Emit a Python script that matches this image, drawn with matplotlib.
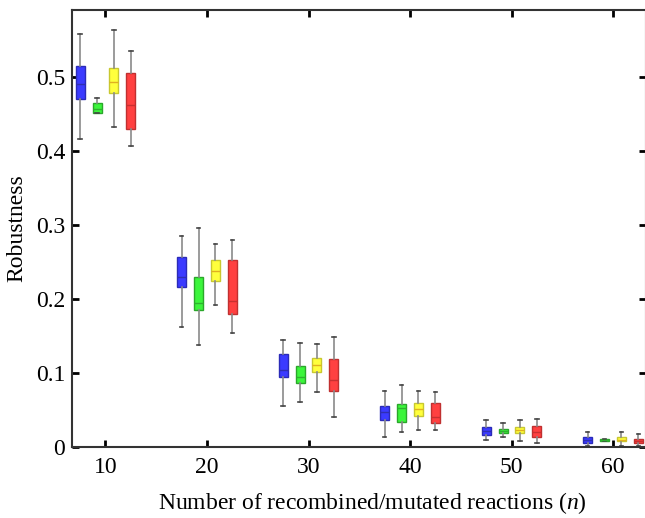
import numpy as np
import matplotlib.pyplot as plt

# Number of recombined/mutated reactions
n_vals = [10, 20, 30, 40, 50, 60]

# Box statistics for each of the four series (low whisker, q1, median, q3, high whisker)
blue_lo  = [0.416, 0.162, 0.055, 0.014, 0.009, 0.002]
blue_q1  = [0.470, 0.216, 0.094, 0.037, 0.016, 0.005]
blue_med = [0.490, 0.229, 0.104, 0.047, 0.022, 0.009]
blue_q3  = [0.514, 0.256, 0.125, 0.056, 0.027, 0.013]
blue_hi  = [0.558, 0.285, 0.145, 0.076, 0.037, 0.020]

green_lo  = [0.451, 0.138, 0.061, 0.020, 0.013, 0.0078]
green_q1  = [0.451, 0.185, 0.087, 0.034, 0.019, 0.0080]
green_med = [0.457, 0.195, 0.095, 0.052, 0.022, 0.0092]
green_q3  = [0.464, 0.230, 0.110, 0.058, 0.024, 0.0102]
green_hi  = [0.471, 0.295, 0.141, 0.084, 0.033, 0.0105]

yellow_lo  = [0.432, 0.192, 0.074, 0.023, 0.008, 0.002]
yellow_q1  = [0.478, 0.224, 0.101, 0.042, 0.019, 0.008]
yellow_med = [0.493, 0.237, 0.111, 0.051, 0.023, 0.0095]
yellow_q3  = [0.512, 0.252, 0.120, 0.059, 0.027, 0.013]
yellow_hi  = [0.563, 0.274, 0.139, 0.075, 0.036, 0.020]

red_lo  = [0.407, 0.154, 0.041, 0.023, 0.005, 0.002]
red_q1  = [0.429, 0.179, 0.076, 0.032, 0.013, 0.005]
red_med = [0.462, 0.197, 0.091, 0.041, 0.020, 0.0085]
red_q3  = [0.505, 0.253, 0.119, 0.059, 0.028, 0.011]
red_hi  = [0.535, 0.280, 0.148, 0.074, 0.038, 0.017]

series = [
    (blue_lo, blue_q1, blue_med, blue_q3, blue_hi, '#3b3bff', '#2b2bb8', '#2f2fb0'),
    (green_lo, green_q1, green_med, green_q3, green_hi, '#3cf53c', '#2aa82a', '#2fb02f'),
    (yellow_lo, yellow_q1, yellow_med, yellow_q3, yellow_hi, '#ffff3c', '#c8c830', '#e0b020'),
    (red_lo, red_q1, red_med, red_q3, red_hi, '#ff4040', '#c03030', '#c83030'),
]
offsets = [-2.5, -0.83, 0.83, 2.5]

plt.rcParams['font.family'] = 'Liberation Serif'
plt.rcParams['mathtext.fontset'] = 'custom'
plt.rcParams['mathtext.rm'] = 'Liberation Serif'
plt.rcParams['mathtext.it'] = 'Liberation Serif:italic'

fig = plt.figure(figsize=(6.45, 5.18), dpi=100)
ax = fig.add_axes([72 / 645, 71 / 518, 574 / 645, 437 / 518])

for (lo, q1, med, q3, hi, fc, ec, mc), off in zip(series, offsets):
    stats = [dict(whislo=a, q1=b, med=c, q3=d, whishi=e, fliers=[])
             for a, b, c, d, e in zip(lo, q1, med, q3, hi)]
    pos = [n + off for n in n_vals]
    ax.bxp(stats, positions=pos, widths=0.88, patch_artist=True, showfliers=False,
           boxprops=dict(facecolor=fc, edgecolor=ec, linewidth=1.0),
           medianprops=dict(color=mc, linewidth=1.0),
           whiskerprops=dict(color='#8a8a8a', linewidth=1.2),
           capprops=dict(color='#444444', linewidth=1.2),
           capwidths=0.35)

ax.set_xlim(6.7, 63.25)
ax.set_ylim(0, 0.59)
ax.set_xticks(n_vals)
ax.set_xticklabels([str(n) for n in n_vals])
ax.set_yticks([0, 0.1, 0.2, 0.3, 0.4, 0.5])
ax.set_yticklabels(['0', '0.1', '0.2', '0.3', '0.4', '0.5'])
ax.tick_params(direction='in', length=5, width=2, labelsize=17, color='black',
               top=True, right=True)
ax.tick_params(axis='x', pad=7)
ax.tick_params(axis='y', pad=5)
for s in ax.spines.values():
    s.set_linewidth(1.5)
    s.set_color('#333333')

ax.set_xlabel('Number of recombined/mutated reactions ($n$)', fontsize=17)
ax.xaxis.set_label_coords(0.524, -0.098)
ax.set_ylabel('Robustness', fontsize=17)
ax.yaxis.set_label_coords(-0.078, 0.5)

fig.savefig('out.png', dpi=100)
